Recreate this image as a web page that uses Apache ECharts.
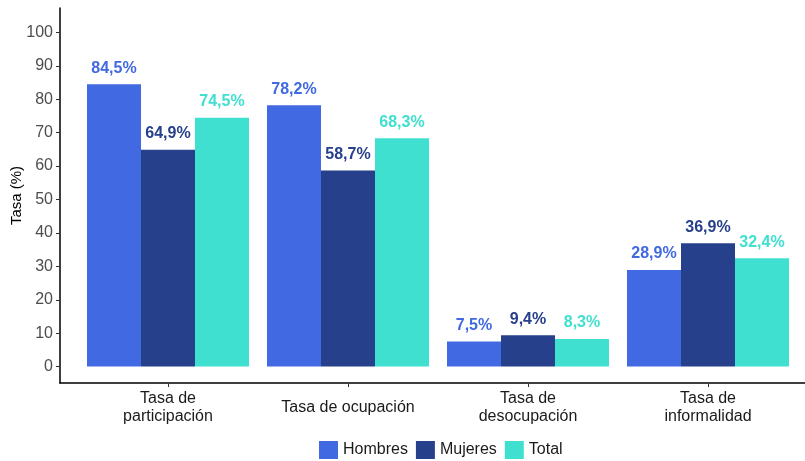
<!DOCTYPE html>
<html><head><meta charset="utf-8">
<script src="https://cdn.jsdelivr.net/npm/echarts@6/dist/echarts.min.js"></script>
<style>html,body{margin:0;padding:0;background:#fff}#c{width:805px;height:461px}</style>
</head><body><div id="c"></div>
<script>
const categories = ['Tasa de\nparticipación', 'Tasa de ocupación', 'Tasa de\ndesocupación', 'Tasa de\ninformalidad'];
const hombres = [84.5, 78.2, 7.5, 28.9];
const mujeres = [64.9, 58.7, 9.4, 36.9];
const total = [74.5, 68.3, 8.3, 32.4];
const yTicks = [0, 10, 20, 30, 40, 50, 60, 70, 80, 90, 100];
const seriesNames = ['Hombres', 'Mujeres', 'Total'];
const colors = ['#4169E1', '#27408B', '#40E0D0'];

const YMIN = -4.9, YMAX = 107.3;
const FONT = 'Liberation Sans, Arial, sans-serif';
const fmt = v => v.toFixed(1).replace('.', ',') + '%';
const catData = categories.map(c => c.includes('\n') ? c : {value: c, textStyle: {lineHeight: 36}});
const chart = echarts.init(document.getElementById('c'), null, {renderer: 'canvas'});
const mk = (name, data, i) => ({
  name, type: 'bar', data, xAxisIndex: 1, yAxisIndex: 1,
  barGap: '0%', barCategoryGap: '10%',
  itemStyle: {color: colors[i]},
  label: {show: true, position: 'top', distance: 8, color: colors[i],
    fontFamily: FONT, fontWeight: 'bold', fontSize: 16,
    formatter: p => fmt(p.value)}
});
chart.setOption({
  animation: false,
  grid: [
    {left: 60, right: 0, top: 8, bottom: 78, containLabel: false, outerBoundsMode: 'none'},
    {left: 78, right: 7, top: 8, bottom: 78, containLabel: false, outerBoundsMode: 'none'}
  ],
  legend: {
    data: seriesNames, top: 441, left: 319, itemWidth: 19, itemHeight: 18, itemGap: 8,
    icon: 'rect', padding: 0,
    textStyle: {fontFamily: FONT, fontSize: 16, color: '#1a1a1a'}
  },
  xAxis: [
    {type: 'category', gridIndex: 0, data: categories,
      axisLine: {show: true, onZero: false, lineStyle: {color: '#000', width: 1.5}},
      axisTick: {show: false}, axisLabel: {show: false}, splitLine: {show: false}},
    {type: 'category', gridIndex: 1, data: catData,
      axisLine: {show: false, onZero: false},
      axisTick: {show: true, alignWithLabel: true, length: 4, lineStyle: {color: '#333'}},
      axisLabel: {color: '#1a1a1a', fontSize: 16, fontFamily: FONT, margin: 7, lineHeight: 18, interval: 0},
      splitLine: {show: false}}
  ],
  yAxis: [
    {type: 'value', gridIndex: 0, min: YMIN, max: YMAX,
      axisLine: {show: true, lineStyle: {color: '#000', width: 1.5}},
      axisTick: {show: true, length: 4, lineStyle: {color: '#333'}, customValues: yTicks},
      axisLabel: {color: '#4d4d4d', fontSize: 16, fontFamily: FONT, margin: 7, customValues: yTicks},
      splitLine: {show: false},
      name: 'Tasa (%)', nameLocation: 'middle', nameGap: 36, nameRotate: 90, nameMoveOverlap: false,
      nameTextStyle: {color: '#000', fontSize: 15, fontFamily: FONT}},
    {type: 'value', gridIndex: 1, min: YMIN, max: YMAX, show: false, splitLine: {show: false}}
  ],
  series: [mk('Hombres', hombres, 0), mk('Mujeres', mujeres, 1), mk('Total', total, 2)]
});
</script></body></html>
